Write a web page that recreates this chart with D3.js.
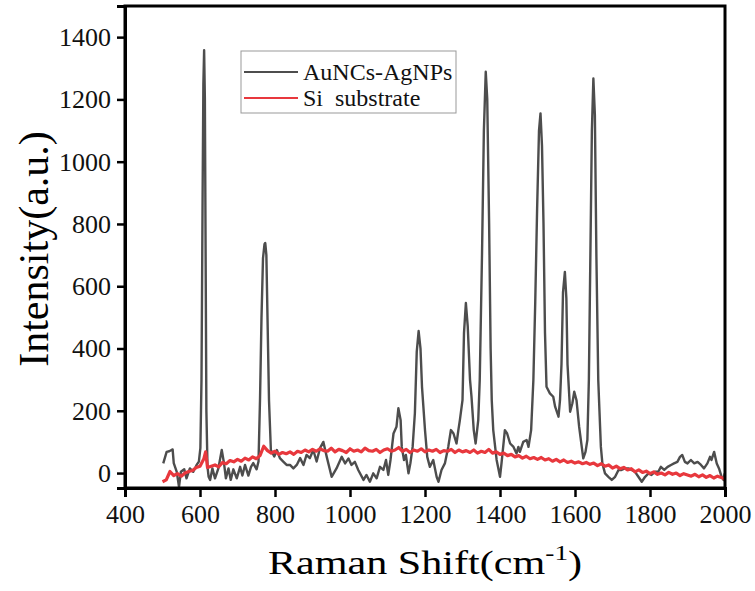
<!DOCTYPE html>
<html lang="en">
<head>
    <meta charset="UTF-8">
    <title>Raman</title>
    <script src="https://cdn.jsdelivr.net/npm/d3@7"></script>
    <style>
        body { margin: 0; background: #fff; }
        text { font-family: "Liberation Serif", "Times New Roman", serif; }
    </style>
</head>
<body>
<script>
    // AuNCs-AgNPs spectrum
    var auShift = [502,511,518,524,527,530,538,544,549,558,564,573,582,591,597,601,604,607,609,611,613,615,617,620,623,627,633,640,649,658,664,669,676,682,689,698,707,713,720,729,736,742,751,756,760,764,768,772,774,777,780,784,789,798,805,813,822,831,840,849,858,867,876,884,893,902,911,920,929,938,951,964,978,987,996,1004,1013,1022,1036,1044,1053,1062,1071,1080,1089,1096,1102,1108,1116,1124,1129,1135,1138,1144,1149,1156,1161,1167,1173,1178,1183,1188,1192,1200,1206,1213,1222,1231,1236,1244,1253,1262,1269,1276,1284,1289,1293,1300,1304,1309,1314,1320,1324,1330,1335,1342,1346,1352,1357,1362,1366,1371,1375,1378,1382,1391,1400,1404,1413,1419,1427,1436,1444,1449,1453,1462,1471,1476,1483,1489,1494,1499,1504,1508,1512,1516,1520,1524,1533,1542,1547,1556,1560,1564,1568,1573,1577,1580,1587,1593,1598,1604,1611,1618,1622,1628,1633,1637,1641,1645,1649,1653,1657,1662,1669,1673,1680,1689,1698,1707,1716,1724,1733,1742,1751,1760,1769,1778,1787,1796,1804,1813,1822,1829,1838,1847,1856,1864,1873,1880,1886,1893,1900,1909,1918,1927,1936,1944,1953,1960,1964,1971,1978,1984,1991,1996,1999];
    var auIntensity = [31,68,70,74,76,32,4,-44,4,12,-17,15,4,26,37,80,300,900,1250,1358,1200,700,200,20,-12,-22,15,-17,15,74,32,-17,15,-22,12,-17,20,-8,26,-8,20,32,12,37,234,500,690,735,739,700,500,234,74,53,74,48,37,26,26,15,26,48,26,58,48,74,37,80,100,52,-12,15,52,31,47,26,36,10,-22,-6,-28,-1,-17,20,10,42,-6,42,127,149,208,170,84,42,58,-1,31,84,192,390,456,400,277,138,52,20,42,-12,-28,10,31,84,138,127,95,138,170,234,450,546,470,300,245,138,95,170,300,700,1100,1289,1200,800,400,234,138,42,-12,31,138,127,95,84,63,84,68,100,106,84,138,299,550,850,1100,1155,1050,800,450,277,256,245,213,181,234,350,580,646,560,350,197,224,261,234,149,84,47,68,106,300,700,1100,1267,1150,700,299,84,31,-1,-12,-22,-12,10,10,15,15,10,4,-12,-28,-12,-1,-6,4,4,20,10,20,26,31,36,52,58,36,31,42,31,36,26,15,31,52,42,68,31,15,-12,-22,-1];

    // Si substrate spectrum
    var siShift = [500,510,520,530,540,550,560,570,580,590,600,610,615,620,630,640,650,660,670,680,690,700,710,720,730,740,750,760,770,780,790,800,810,820,830,840,850,860,870,880,890,900,910,920,930,940,950,960,970,980,990,1000,1010,1020,1030,1040,1050,1060,1070,1080,1090,1100,1110,1120,1130,1140,1150,1160,1170,1180,1190,1200,1210,1220,1230,1240,1250,1260,1270,1280,1290,1300,1310,1320,1330,1340,1350,1360,1370,1380,1390,1400,1410,1420,1430,1440,1450,1460,1470,1480,1490,1500,1510,1520,1530,1540,1550,1560,1570,1580,1590,1600,1610,1620,1630,1640,1650,1660,1670,1680,1690,1700,1710,1720,1730,1740,1750,1760,1770,1780,1790,1800,1810,1820,1830,1840,1850,1860,1870,1880,1890,1900,1910,1920,1930,1940,1950,1960,1970,1980,1990,2000];
    var siIntensity = [-28,-22,5,-8,-2,-10,0,5,8,18,22,45,68,18,22,26,20,34,30,40,36,44,38,48,42,52,46,56,86,72,64,70,60,66,62,68,60,70,66,74,68,76,70,78,72,70,80,68,76,72,66,78,70,74,68,80,72,70,76,66,74,78,70,74,82,70,76,66,74,70,78,68,74,70,76,66,72,70,76,66,74,68,72,66,74,64,70,66,76,64,68,60,64,56,60,52,56,48,54,46,50,44,50,42,46,38,44,36,42,34,38,32,36,30,34,28,32,24,30,22,26,16,22,14,18,10,14,4,10,2,6,-2,4,-4,0,-6,2,-4,0,-8,-2,-6,-10,-4,-12,-6,-14,-8,-16,-10,-14,-20];

    var xTicks = [400,600,800,1000,1200,1400,1600,1800,2000];
    var yTicks = [0,200,400,600,800,1000,1200,1400];
    var seriesNames = ["AuNCs-AgNPs", "Si  substrate"];
    var seriesColors = ["#4d4d4d", "#e8383d"];

    var width = 755, height = 591;
    var svg = d3.select("body").append("svg").attr("width", width).attr("height", height);

    var x = d3.scaleLinear().domain([400, 2000]).range([125, 725]);
    var y = d3.scaleLinear().domain([-48, 1500]).range([488, 6]);

    // curves
    var line = d3.line().x(function(d){ return x(d[0]); }).y(function(d){ return y(d[1]); });
    var siData = d3.zip(siShift, siIntensity);
    var auData = d3.zip(auShift, auIntensity);

    svg.append("path").datum(auData)
        .attr("d", line).attr("fill", "none")
        .attr("stroke", seriesColors[0]).attr("stroke-width", 2.4)
        .attr("stroke-linejoin", "round");
    svg.append("path").datum(siData)
        .attr("d", line).attr("fill", "none")
        .attr("stroke", seriesColors[1]).attr("stroke-width", 3.2)
        .attr("stroke-linejoin", "round");

    // frame
    svg.append("rect")
        .attr("x", x.range()[0]).attr("y", y.range()[1])
        .attr("width", x.range()[1] - x.range()[0])
        .attr("height", y.range()[0] - y.range()[1])
        .attr("fill", "none").attr("stroke", "#000").attr("stroke-width", 3);

    var xAxis = d3.axisBottom(x).tickValues(xTicks).tickSize(9).tickPadding(8).tickFormat(d3.format("d"));
    var yAxis = d3.axisLeft(y).tickValues(yTicks).tickSize(8).tickPadding(6).tickFormat(d3.format("d"));

    var gx = svg.append("g").attr("transform", "translate(0," + y.range()[0] + ")").call(xAxis);
    var gy = svg.append("g").attr("transform", "translate(" + x.range()[0] + ",0)").call(yAxis);
    [gx, gy].forEach(function(g){
        g.select(".domain").attr("stroke-width", 3);
        g.selectAll(".tick line").attr("stroke-width", 2.5);
        g.selectAll(".tick text").attr("font-size", 26).attr("fill", "#111")
            .style("font-family", "'Liberation Serif', 'Times New Roman', serif");
    });

    // titles
    svg.append("text")
        .attr("transform", "translate(48,249) rotate(-90)")
        .attr("text-anchor", "middle")
        .attr("font-size", 42)
        .text("Intensity(a.u.)");

    var xt = svg.append("text")
        .attr("transform", "translate(425,574) scale(1.24,1)")
        .attr("text-anchor", "middle")
        .attr("font-size", 34);
    xt.append("tspan").text("Raman Shift(cm");
    xt.append("tspan").attr("font-size", 22).attr("dy", -14).text("-1");
    xt.append("tspan").attr("dy", 14).text(")");

    // legend
    var legend = svg.append("g");
    legend.append("rect").attr("x", 241).attr("y", 51).attr("width", 215).attr("height", 62)
        .attr("fill", "#fff").attr("stroke", "#999").attr("stroke-width", 1);
    seriesNames.forEach(function(name, i){
        var ly = 72 + i * 26;
        legend.append("line").attr("x1", 244).attr("x2", 298).attr("y1", ly).attr("y2", ly)
            .attr("stroke", seriesColors[i]).attr("stroke-width", 2.2);
        legend.append("text").attr("x", 303).attr("y", ly + 8)
            .attr("font-size", 24).attr("fill", "#111")
            .style("white-space", "pre")
            .text(name);
    });
</script>
</body>
</html>
